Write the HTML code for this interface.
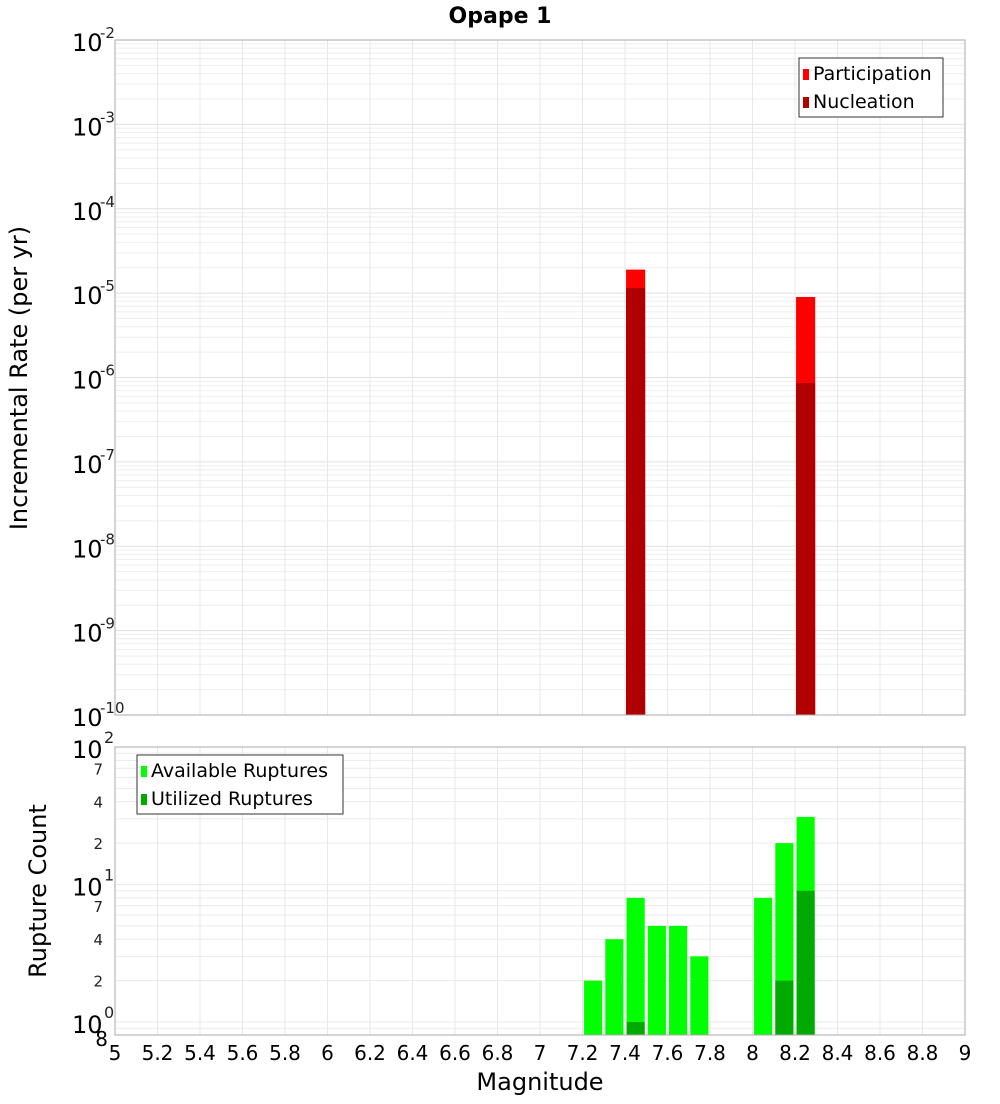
<!DOCTYPE html>
<html><head><meta charset="utf-8"><style>
body{margin:0;background:#fff;font-family:"DejaVu Sans","Liberation Sans",sans-serif;}
</style></head><body>
<svg id="c" width="1000" height="1100" xmlns="http://www.w3.org/2000/svg" font-family="DejaVu Sans, Liberation Sans, sans-serif"></svg>
<script>
const binCenters=[7.45,8.25];
const participation=[1.9e-5,9e-6];
const nucleation=[1.15e-5,8.6e-7];
const ruptMags=[7.25,7.35,7.45,7.55,7.65,7.75,8.05,8.15,8.25];
const available=[2,4,8,5,5,3,8,20,31];
const utilized=[0,0,1,0,0,0,0,2,9];
const xTicks=[5,5.2,5.4,5.6,5.8,6,6.2,6.4,6.6,6.8,7,7.2,7.4,7.6,7.8,8,8.2,8.4,8.6,8.8,9];
const topExps=[-2,-3,-4,-5,-6,-7,-8,-9,-10];
const botExps=[2,1,0];
const botMinorLabels=[2,4,7];

const NS="http://www.w3.org/2000/svg";
const svg=document.getElementById('c');
function el(t,a,p){const e=document.createElementNS(NS,t);for(const k in a)e.setAttribute(k,a[k]);(p||svg).appendChild(e);return e;}
const L=115,R=965;
const xs=m=>L+(m-5)/4*(R-L);
const T1=40,B1=715,yTop=v=>T1+(-2-Math.log10(v))*(B1-T1)/8;
const T2=747,B2=1035,D2=137.5,yBot=v=>T2+(2-Math.log10(v))*D2;
const BW=0.09;

let t=el('text',{x:500,y:23,'text-anchor':'middle','font-size':22,'font-weight':'bold'});t.textContent='Opape 1';


const g1=el('g',{});

for(let e=-10;e<-2;e++)for(let k=1;k<10;k++){const y=yTop(k*Math.pow(10,e));el('line',{x1:L,x2:R,y1:y,y2:y,stroke:k==1?'#e0e0e0':'#eeeeee','stroke-width':1},g1);}
xTicks.forEach(m=>el('line',{x1:xs(m),x2:xs(m),y1:T1,y2:B1,stroke:'#e8e8e8'},g1));
const g2=el('g',{});

for(let e=-1;e<2;e++)for(let k=1;k<10;k++){const v=k*Math.pow(10,e);const y=yBot(v);if(y>B2||y<T2)continue;el('line',{x1:L,x2:R,y1:y,y2:y,stroke:'#eaeaea'},g2);}
xTicks.forEach(m=>el('line',{x1:xs(m),x2:xs(m),y1:T2,y2:B2,stroke:'#e8e8e8'},g2));

binCenters.forEach((m,i)=>{
 const x=xs(m-BW/2),w=xs(m+BW/2)-x;
 let r=el('rect',{x:x,y:yTop(participation[i]),width:w,height:B1-yTop(participation[i]),fill:'#ff0000'});
 
 r=el('rect',{x:x,y:yTop(nucleation[i]),width:w,height:B1-yTop(nucleation[i]),fill:'#b00000'});
 
});
ruptMags.forEach((m,i)=>{
 const x=xs(m-BW/2)+0.5,w=xs(m+BW/2)-x-0.5;
 let r=el('rect',{x:x,y:yBot(available[i]),width:w,height:B2-yBot(available[i]),fill:'#00ff00'});
 
 if(utilized[i]>0){r=el('rect',{x:x,y:yBot(utilized[i]),width:w,height:B2-yBot(utilized[i]),fill:'#00aa00'});
 }
});
el('rect',{x:L,y:T1,width:R-L,height:B1-T1,fill:'none',stroke:'#aaa'});
el('rect',{x:L,y:T2,width:R-L,height:B2-T2,fill:'none',stroke:'#aaa'});

topExps.forEach(e=>{const y=yTop(Math.pow(10,e));
 const tx=el('text',{x:72,y:y+11,'font-size':24});tx.textContent='10';
 
 const s=el('text',{x:100,y:y-2,'font-size':15,fill:'#222'});s.textContent=String(e);
});
botExps.forEach(e=>{const y=yBot(Math.pow(10,e));
 const tx=el('text',{x:72,y:y+11,'font-size':24});tx.textContent='10';
 
 const s=el('text',{x:104,y:y-4,'font-size':16,fill:'#222'});s.textContent=String(e);
});
[1,0].forEach(e=>botMinorLabels.forEach(k=>{const y=yBot(k*Math.pow(10,e));
 const s=el('text',{x:103,y:y+6,'font-size':15,'text-anchor':'end',fill:'#222'});s.textContent=String(k);
 }));
let s8=el('text',{x:108,y:B2+11,'font-size':20,'text-anchor':'end'});s8.textContent='8';
xTicks.forEach(m=>{const tx=el('text',{x:xs(m),y:1060,'font-size':20,'text-anchor':'middle'});tx.textContent=String(m);
 });
t=el('text',{x:540,y:1090,'font-size':24,'text-anchor':'middle'});t.textContent='Magnitude';

t=el('text',{x:0,y:0,'font-size':24,'text-anchor':'middle',transform:'translate(27,378) rotate(-90)'});t.textContent='Incremental Rate (per yr)';

t=el('text',{x:0,y:0,'font-size':24,'text-anchor':'middle',transform:'translate(46,891) rotate(-90)'});t.textContent='Rupture Count';


function legend(x,y,w,items,name){const g=el('g',{});
 
 el('rect',{x:x,y:y,width:w,height:59,fill:'#fff',stroke:'#333'},g);
 items.forEach((it,i)=>{el('rect',{x:x+4,y:y+11+i*28,width:6,height:11,fill:it[1]},g);
  const tx=el('text',{x:x+14,y:y+22+i*28,'font-size':19},g);tx.textContent=it[0];});}
legend(799,58,144,[['Participation','#ff0000'],['Nucleation','#b00000']],'top-legend');
legend(137,755,206,[['Available Ruptures','#00ff00'],['Utilized Ruptures','#00aa00']],'bottom-legend');
</script>
</body></html>
